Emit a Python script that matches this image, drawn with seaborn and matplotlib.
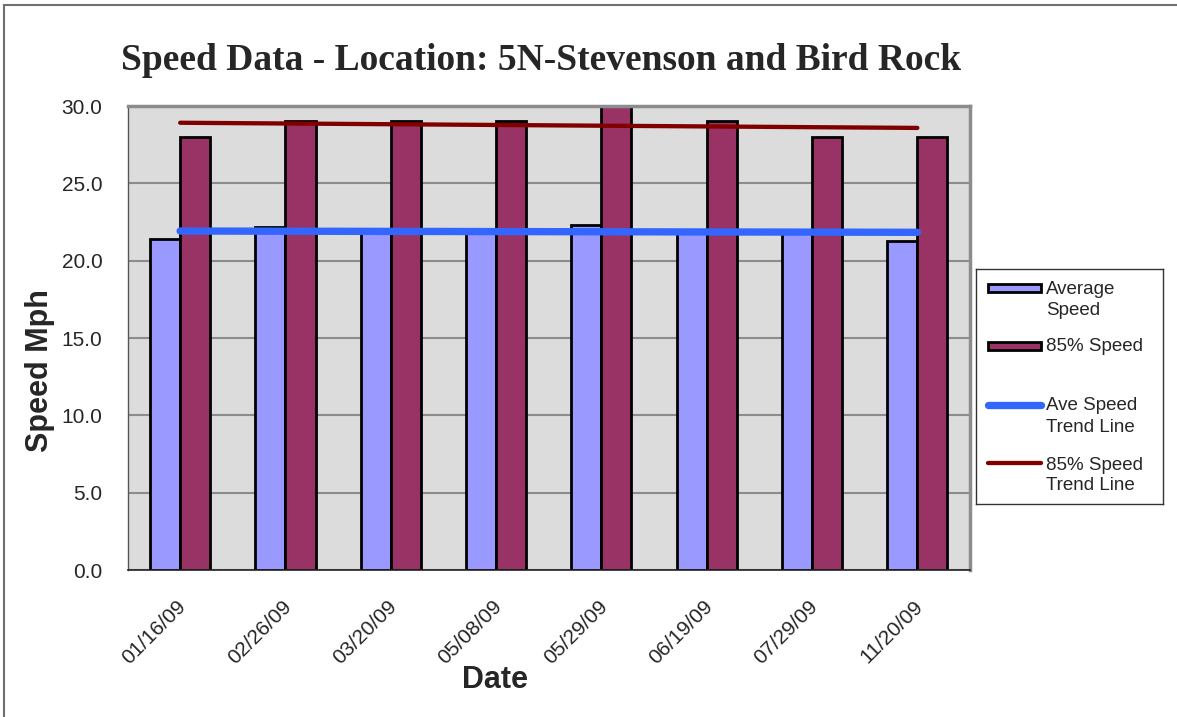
import numpy as np
import pandas as pd
import matplotlib
matplotlib.use("Agg")
import matplotlib.pyplot as plt
from matplotlib.patches import Rectangle
from matplotlib.transforms import ScaledTranslation
import seaborn as sns

dates = ["01/16/09", "02/26/09", "03/20/09", "05/08/09",
         "05/29/09", "06/19/09", "07/29/09", "11/20/09"]
avg_speed = [21.4, 22.2, 21.9, 21.9, 22.3, 22.0, 22.0, 21.3]
speed_85 = [28.0, 29.0, 29.0, 29.0, 30.0, 29.0, 28.0, 28.0]
series_names = ["Average Speed", "85% Speed"]
y_ticks = [0, 5, 10, 15, 20, 25, 30]

df = pd.DataFrame({
    "Date": dates * 2,
    "Speed": avg_speed + speed_85,
    "Series": [series_names[0]] * len(dates) + [series_names[1]] * len(dates),
})

# linear trend lines, like the excel ones
xpos = np.arange(len(dates))
avg_trend = np.polyval(np.polyfit(xpos, avg_speed, 1), xpos)
p85_trend = np.polyval(np.polyfit(xpos, speed_85, 1), xpos)

sns.set_style("white")
plt.rcParams["font.family"] = ["Liberation Sans", "DejaVu Sans"]

avg_col = "#9999FF"
p85_col = "#993366"
blue = "#3366FF"
dark_red = "#800000"

W, H = 1177, 717
fig = plt.figure(figsize=(W / 100, H / 100), dpi=100)
ax = fig.add_axes([127.5 / W, 147 / H, 842.5 / W, 464 / H])
ax.set_facecolor("#DCDCDC")

sns.barplot(data=df, x="Date", y="Speed", hue="Series",
            palette=[avg_col, p85_col], saturation=1, width=0.571,
            edgecolor="black", linewidth=2, legend=False, ax=ax, zorder=2)

ax.plot(xpos, avg_trend, color=blue, lw=5.3, solid_capstyle="round", zorder=4)
ax.plot(xpos, p85_trend, color=dark_red, lw=3.1, solid_capstyle="round", zorder=4)

ax.set_ylim(0, 30)
ax.set_xlim(-0.5, len(dates) - 0.5)
ax.set_yticks(y_ticks)
ax.set_yticklabels([f"{v:.1f}" for v in y_ticks], fontsize=15)
ax.yaxis.grid(True, color="#8C8C8C", lw=1.5)
ax.set_axisbelow(True)

# category labels at centres, tick marks at boundaries
ax.set_xticks(xpos)
ax.set_xticklabels(dates, rotation=45, ha="right", va="center",
                   rotation_mode="anchor", fontsize=15)
ax.tick_params(axis="x", which="major", length=0, pad=24)
for lab in ax.get_xticklabels():
    lab.set_transform(lab.get_transform() + ScaledTranslation(0.03, 0, fig.dpi_scale_trans))
ax.set_xticks(np.arange(-0.5, len(dates)), minor=True)
ax.tick_params(axis="x", which="minor", length=7, color="#555555", width=1, direction="out")
ax.tick_params(axis="y", length=7, color="#555555", width=1, direction="out", pad=11)
ax.set_xlabel("")
ax.set_ylabel("")

for s in ["top", "right"]:
    ax.spines[s].set_color("#8C8C8C")
    ax.spines[s].set_linewidth(2.5)
ax.spines["left"].set_color("#555555")
ax.spines["left"].set_linewidth(1)
ax.spines["bottom"].set_color("#222222")
ax.spines["bottom"].set_linewidth(1.2)

fig.text(541 / W, 1 - 60 / H, "Speed Data - Location: 5N-Stevenson and Bird Rock",
         ha="center", va="center", fontsize=27, fontweight="bold",
         family=["Liberation Serif", "DejaVu Serif"])
fig.text(40 / W, 1 - 371 / H, "Speed Mph", rotation=90, ha="center", va="center",
         fontsize=22, fontweight="bold")
fig.text(495 / W, 1 - 680 / H, "Date", ha="center", va="center",
         fontsize=22, fontweight="bold")

# legend drawn excel-style in its own axes (pixel coords, y downward)
lax = fig.add_axes([976 / W, 1 - 504 / H, 187 / W, 235 / H])
lax.set_xlim(976, 1163)
lax.set_ylim(504, 269)
lax.set_xticks([])
lax.set_yticks([])
for s in lax.spines.values():
    s.set_color("#333333")
    s.set_linewidth(1)
lax.add_patch(Rectangle((988, 284.5), 53, 8, facecolor=avg_col, edgecolor="black", lw=2))
lax.add_patch(Rectangle((988, 342.5), 53, 8, facecolor=p85_col, edgecolor="black", lw=2))
lax.plot([988, 1041], [405, 405], color=blue, lw=5.3, solid_capstyle="round")
lax.plot([988, 1041], [463, 463], color=dark_red, lw=3.1, solid_capstyle="round")
leg_rows = [("Average", 290), ("Speed", 311), ("85% Speed", 347),
            ("Ave Speed", 406), ("Trend Line", 427), ("85% Speed", 465), ("Trend Line", 486)]
for txt, yy in leg_rows:
    lax.text(1046, yy, txt, ha="left", va="center", fontsize=13.5)

# outer chart border (left and top visible)
fig.patches.append(Rectangle((4 / W, -0.1), 1.2, 1.1 - 5 / H,
                             transform=fig.transFigure, fill=False,
                             edgecolor="#707070", lw=1.5))

fig.savefig("out.png", dpi=100)
plt.close(fig)
